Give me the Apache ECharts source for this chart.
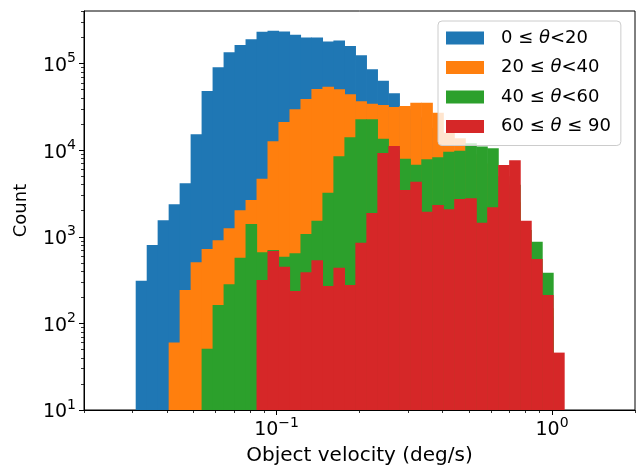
<!DOCTYPE html>
<html>
<head>
<meta charset="utf-8">
<script src="https://cdn.jsdelivr.net/npm/echarts@6/dist/echarts.min.js"></script>
<style>
html,body{margin:0;padding:0;background:#fff;}
#c{width:639px;height:465px;}
</style>
</head>
<body>
<div id="c"></div>
<script>
// ---- data ----
const BIN_EDGES = [0.03081,0.03378,0.03701,0.04058,0.04448,0.04876,0.05344,0.05858,0.06422,0.07039,
  0.07716,0.08458,0.09271,0.1016,0.1114,0.1221,0.1338,0.1467,0.1608,0.1763,
  0.1932,0.2118,0.2322,0.2545,0.2790,0.3058,0.3352,0.3674,0.4027,0.4414,
  0.4839,0.5304,0.5814,0.6373,0.6986,0.7658,0.8395,0.9202,1.0086,1.1056];

const CATEGORIES = ['0 ≤ θ<20', '20 ≤ θ<40', '40 ≤ θ<60', '60 ≤ θ ≤ 90'];

const COUNT_0_20 = [311,803,1549,2371,4150,15270,48300,90600,135000,164000,
  191000,233000,240000,235000,215000,200000,200000,180000,185000,160000,
  125000,85900,63500,45400,30000,24000,18000,13000,9000,6500,
  4500,3000,2000,1300,800,450,250,120,0];
const COUNT_20_40 = [0,0,0,60,243,508,722,912,1254,2022,
  2660,4690,12680,21200,29700,39000,50900,54100,50500,44200,
  36700,34400,33300,31500,32400,35400,35400,27100,15900,13700,
  9000,7000,5000,3500,2500,900,400,150,0];
const COUNT_40_60 = [0,0,0,0,0,0,51,163,283,574,
  1407,662,705,589,645,1077,1535,3230,8510,14100,
  22800,22800,13600,10000,7980,6800,7850,8280,9620,9870,
  12000,11000,10500,5000,4000,1200,877,385,0];
const COUNT_60_90 = [0,0,0,0,0,0,0,0,0,0,
  0,317,686,452,237,389,535,271,440,277,
  855,1884,9290,11200,3470,4330,1950,2330,2080,2740,
  2790,1455,2190,6740,7640,1535,554,213,46];

const X_MAJOR_TICKS = [0.1, 1];
const X_MINOR_TICKS = [0.02,0.03,0.04,0.05,0.06,0.07,0.08,0.09,0.2,0.3,0.4,0.5,0.6,0.7,0.8,0.9,2];
const Y_MAJOR_TICKS = [10, 100, 1000, 10000, 100000];
const Y_MINOR_TICKS = [20,30,40,50,60,70,80,90,200,300,400,500,600,700,800,900,
  2000,3000,4000,5000,6000,7000,8000,9000,20000,30000,40000,50000,60000,70000,80000,90000,
  200000,300000,400000];
const X_MIN = 0.02, X_MAX = 2.0, Y_MIN = 10, Y_MAX = 405000;

const X_TITLE = 'Object velocity (deg/s)';
const Y_TITLE = 'Count';

// ---- chart ----
const COLORS = ['#1f77b4', '#ff7f0e', '#2ca02c', '#d62728'];
const FONT = 'DejaVu Sans';
const ALL_COUNTS = [COUNT_0_20, COUNT_20_40, COUNT_40_60, COUNT_60_90];

function powLabel(v) {
  const e = Math.round(Math.log10(v));
  const s = e < 0 ? '\u2212' + (-e) : String(e);
  return '{b|10}{s|' + s + '}';
}
const powRich = {
  b: { fontFamily: FONT, fontSize: 19, color: '#000', padding: [5, 0, 0, 0] },
  s: { fontFamily: FONT, fontSize: 14, color: '#000', verticalAlign: 'top' }
};

const chart = echarts.init(document.getElementById('c'), null, { renderer: 'canvas' });

const grid = {
  left: 84, top: 11, width: 551, height: 399,
  containLabel: false, outerBoundsMode: 'none',
  show: true, borderColor: '#000', borderWidth: 1, backgroundColor: 'transparent'
};

const series = ALL_COUNTS.map((counts, k) => ({
  type: 'custom',
  name: CATEGORIES[k],
  xAxisIndex: 0,
  yAxisIndex: 0,
  itemStyle: { color: COLORS[k] },
  encode: { x: [0, 1], y: 2 },
  data: counts.map((c, i) => [BIN_EDGES[i], BIN_EDGES[i + 1], c]).filter(d => d[2] > 0),
  clip: true,
  renderItem: function (params, api) {
    const p0 = api.coord([api.value(0), api.value(2)]);
    const p1 = api.coord([api.value(1), Y_MIN]);
    return {
      type: 'rect',
      z2: k,
      shape: { x: p0[0], y: p0[1], width: p1[0] - p0[0] + 0.6, height: p1[1] - p0[1] },
      style: { fill: COLORS[k] }
    };
  }
}));

const option = {
  animation: false,
  backgroundColor: '#fff',
  grid: grid,
  xAxis: [
    {
      type: 'log', logBase: 10, min: X_MIN, max: X_MAX, position: 'bottom',
      axisLine: { show: true, lineStyle: { color: '#000', width: 1 } },
      axisTick: { show: true, inside: false, length: 5, lineStyle: { color: '#000', width: 1 }, customValues: X_MAJOR_TICKS },
      axisLabel: { show: true, margin: 6, formatter: powLabel, rich: powRich, customValues: X_MAJOR_TICKS },
      splitLine: { show: false }, minorTick: { show: false },
      name: X_TITLE, nameLocation: 'middle', nameGap: 36,
      nameTextStyle: { fontFamily: FONT, fontSize: 20, color: '#000' }
    },
    {
      type: 'log', logBase: 10, min: X_MIN, max: X_MAX, position: 'bottom', gridIndex: 0,
      axisLine: { show: false },
      axisTick: { show: true, inside: false, length: 3, lineStyle: { color: '#000', width: 0.8 }, customValues: X_MINOR_TICKS },
      axisLabel: { show: false }, splitLine: { show: false }
    }
  ],
  yAxis: [
    {
      type: 'log', logBase: 10, min: Y_MIN, max: Y_MAX, position: 'left',
      axisLine: { show: true, lineStyle: { color: '#000', width: 1 } },
      axisTick: { show: true, inside: false, length: 5, lineStyle: { color: '#000', width: 1 }, customValues: Y_MAJOR_TICKS },
      axisLabel: { show: true, margin: 8, formatter: powLabel, rich: powRich, customValues: Y_MAJOR_TICKS },
      splitLine: { show: false }, minorTick: { show: false },
      name: Y_TITLE, nameLocation: 'middle', nameGap: 54, nameRotate: 90,
      nameTextStyle: { fontFamily: FONT, fontSize: 18, color: '#000' }
    },
    {
      type: 'log', logBase: 10, min: Y_MIN, max: Y_MAX, position: 'left', gridIndex: 0,
      axisLine: { show: false },
      axisTick: { show: true, inside: false, length: 3, lineStyle: { color: '#000', width: 0.8 }, customValues: Y_MINOR_TICKS },
      axisLabel: { show: false }, splitLine: { show: false }
    }
  ],
  legend: {
    show: true,
    data: CATEGORIES,
    orient: 'vertical',
    left: 438, top: 21,
    icon: 'rect',
    itemWidth: 38, itemHeight: 13, itemGap: 9.5,
    padding: [7, 10, 9, 8],
    backgroundColor: 'rgba(255,255,255,0.8)',
    borderColor: '#cccccc', borderWidth: 1, borderRadius: 4,
    formatter: function (name) {
      const parts = name.split('θ');
      return '{n|' + parts[0] + '}{i|θ}{n|' + parts[1] + '}';
    },
    textStyle: {
      fontFamily: FONT, fontSize: 18, color: '#000', padding: [0, 0, 0, 12], lineHeight: 20,
      rich: {
        n: { fontFamily: FONT, fontSize: 18, color: '#000', lineHeight: 20 },
        i: { fontFamily: FONT, fontSize: 18, color: '#000', fontStyle: 'italic', lineHeight: 20 }
      }
    }
  },
  series: series
};
chart.setOption(option);
</script>
</body>
</html>
